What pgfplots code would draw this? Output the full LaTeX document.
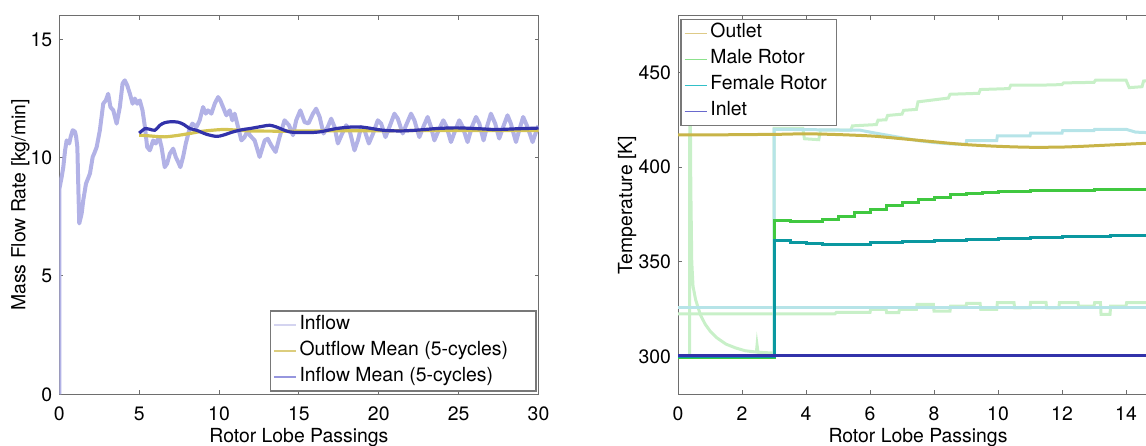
\documentclass[border=0pt]{standalone}
\usepackage{pgfplots}
\pgfplotsset{compat=1.18}
\usepackage{fontspec}
\setmainfont{TeX Gyre Heros}

\definecolor{inflowlight}{RGB}{178,178,230}
\definecolor{inflowmean}{RGB}{50,50,170}
\definecolor{outmean}{RGB}{212,196,84}
\definecolor{outlet}{RGB}{200,180,72}
\definecolor{male}{RGB}{64,200,64}
\definecolor{female}{RGB}{10,152,160}
\definecolor{inlet}{RGB}{50,50,170}
\definecolor{malelight}{RGB}{200,240,200}
\definecolor{femlight}{RGB}{182,228,232}
\definecolor{axgray}{RGB}{110,110,110}
\definecolor{leggray}{RGB}{120,120,120}
% legend line colours
\definecolor{lgInflow}{RGB}{212,212,240}
\definecolor{lgOutMean}{RGB}{220,205,125}
\definecolor{lgInMean}{RGB}{150,150,222}
\definecolor{lgOutlet}{RGB}{222,202,135}
\definecolor{lgMale}{RGB}{140,225,140}
\definecolor{lgFemale}{RGB}{50,192,200}
\definecolor{lgInlet}{RGB}{105,105,205}

\newcommand{\fs}{\fontsize{9.7}{11.6}\selectfont}
\newcommand{\lgline}[1]{\addlegendimage{legend image code/.code={\draw[color=#1, line width=0.7pt] (0pt,0pt) -- (11pt,0pt);}}}

\pgfplotsset{
  mystyle/.style={
    scale only axis,
    tick align=inside,
    axis line style={draw=axgray, line width=0.5pt},
    every tick/.style={draw=axgray, line width=0.5pt},
    major tick length=2pt,
    tick label style={font=\fs, text=black},
    label style={font=\fs},
    /pgf/number format/assume math mode=true,
    /pgf/number format/1000 sep={},
    xticklabel style={anchor=base, yshift=-12.85pt},
    xlabel style={at={(axis description cs:0.5,0)}, anchor=base, yshift=-23.85pt},
    legend cell align=left,
    legend style={draw=leggray, line width=0.6pt, fill=white, font=\fs,
      inner xsep=1.5pt, inner ysep=0.5pt, row sep=0pt,
      nodes={inner xsep=1.5pt, inner ysep=2pt, text height=6.5pt, text depth=2.5pt}},
  }
}

\begin{document}
\begin{tikzpicture}
% ---------------- Left panel ----------------
\begin{axis}[mystyle,
  at={(29.65pt,25.35pt)}, anchor=south west,
  width=239.6pt, height=189.3pt,
  xmin=0, xmax=30, ymin=0, ymax=16,
  xtick={0,5,10,15,20,25,30}, ytick={0,5,10,15},
  xlabel={Rotor Lobe Passings},
  ylabel={Mass Flow Rate [kg/min]},
  ylabel style={at={(axis description cs:-0.081,0.5)}, anchor=center},
  legend style={at={(0.9962,0.0069)}, anchor=south east},
]
\lgline{lgInflow}
\addlegendentry{Inflow}
\lgline{lgOutMean}
\addlegendentry{Outflow Mean (5-cycles)\hspace*{11pt}}
\lgline{lgInMean}
\addlegendentry{Inflow Mean (5-cycles)}

\addplot[forget plot, color=inflowlight, line width=2pt, line join=round] coordinates {
(0,0) (0.01,8.7) (0.15,9.19) (0.25,9.6) (0.36,10.3) (0.46,10.73) (0.62,10.6) (0.72,10.9)
(0.84,11.16) (0.98,11.1) (1.05,10.9) (1.13,10.45) (1.2,8.5) (1.25,7.22) (1.4,7.64) (1.5,8.2)
(1.67,8.9) (1.92,9.33) (2.09,10.03) (2.2,10.2) (2.34,10.45) (2.54,11.16) (2.75,12.28) (2.91,12.42)
(3.06,12.7) (3.2,12.14) (3.38,12.0) (3.59,11.44) (3.79,12.14) (3.96,13.13) (4.1,13.27) (4.25,13.06)
(4.42,12.7) (4.59,12.28) (4.73,12.5) (4.88,12.28) (5.04,12.42) (5.21,12.0) (5.36,11.3) (5.5,10.45)
(5.67,10.31) (5.88,10.73) (6.04,10.6) (6.25,10.87) (6.4,10.45) (6.6,9.6) (6.75,9.75) (6.92,10.17)
(7.13,10.38) (7.29,10.03) (7.44,9.82) (7.58,9.6) (7.75,10.03) (7.92,10.6) (8.13,11.16) (8.33,11.44)
(8.59,11.3) (8.79,11.58) (9.0,12.14) (9.17,11.86) (9.31,12.0) (9.52,11.86) (9.73,12.28) (9.94,12.56)
(10.08,12.42) (10.25,12.14) (10.46,11.79) (10.67,12.0) (10.83,11.58) (10.98,11.86) (11.19,11.3) (11.4,10.73)
(11.6,10.87) (11.8,11.16) (11.92,10.95) (12.23,10.73) (12.54,10.03) (12.86,10.73) (13.05,10.8) (13.27,10.52)
(13.54,10.24) (13.79,10.87) (14.1,11.58) (14.38,11.37) (14.63,10.95) (14.83,11.58) (15.09,12.0) (15.36,11.5)
(15.6,11.45) (15.88,11.86) (16.08,12.07) (16.3,11.72) (16.54,11.02) (16.81,11.3) (17.02,11.65) (17.23,11.3)
(17.44,10.6) (17.71,11.02) (17.96,11.37) (18.17,11.16) (18.48,10.31) (18.69,10.73) (18.9,11.3) (19.11,11.16)
(19.38,10.6) (19.63,11.0) (19.94,11.58) (20.15,11.44) (20.42,10.87) (20.67,11.3) (20.98,11.86) (21.19,11.65)
(21.5,11.02) (21.71,11.37) (22.02,11.86) (22.23,11.58) (22.54,10.87) (22.79,11.3) (23.06,11.72) (23.27,11.3)
(23.48,10.73) (23.75,11.16) (24.04,11.58) (24.25,11.3) (24.52,10.66) (24.79,11.16) (25.04,11.58) (25.25,11.3)
(25.56,10.66) (25.83,11.3) (26.09,11.72) (26.3,11.44) (26.56,10.73) (26.77,11.3) (27.02,11.86) (27.29,11.44)
(27.54,10.81) (27.79,11.3) (28.06,11.79) (28.27,11.44) (28.59,10.66) (28.79,11.16) (29.04,11.72) (29.31,11.3)
(29.63,10.66) (29.88,11.16) (30.0,11.35)
};
\addplot[forget plot, color=outmean, line width=1.6pt, smooth] coordinates {
(5,10.95) (5.5,10.93) (6,10.9) (6.6,10.88) (7.3,10.93) (8.15,11.02) (9,11.12) (10.2,11.19)
(11,11.17) (12,11.13) (14,11.12) (16,11.13) (20,11.14) (25,11.15) (30,11.15)
};
\addplot[forget plot, color=inflowmean, line width=1.6pt, smooth] coordinates {
(5.0,11.04) (5.2,11.15) (5.36,11.23) (5.67,11.2) (5.98,11.16) (6.3,11.37) (6.6,11.48) (7.0,11.52)
(7.44,11.5) (7.8,11.4) (8.17,11.23) (8.59,11.16) (9.21,10.99) (9.83,10.9) (10.25,10.95) (10.88,11.09)
(11.5,11.19) (11.92,11.23) (12.75,11.33) (13.17,11.37) (13.58,11.3) (14.42,11.09) (15.46,11.06) (16.3,11.09)
(17.34,11.23) (18.38,11.3) (19.11,11.28) (20.25,11.16) (21.3,11.13) (22.34,11.16) (23.59,11.23) (24.84,11.26)
(26.09,11.23) (27.34,11.19) (28.59,11.22) (30,11.25)
};
\end{axis}

% ---------------- Right panel ----------------
\begin{axis}[mystyle,
  at={(339pt,25.35pt)}, anchor=south west,
  width=240pt, height=189.3pt,
  xmin=0, xmax=15, ymin=280, ymax=480,
  xtick={0,2,4,6,8,10,12,14}, ytick={300,350,400,450},
  xlabel={Rotor Lobe Passings},
  ylabel={Temperature [K]},
  ylabel style={at={(axis description cs:-0.106,0.5)}, anchor=center},
  legend style={at={(0.005,0.9913)}, anchor=north west},
]
\lgline{lgOutlet}
\addlegendentry{Outlet}
\lgline{lgMale}
\addlegendentry{Male Rotor}
\lgline{lgFemale}
\addlegendentry{Female Rotor\hspace*{2pt}}
\lgline{lgInlet}
\addlegendentry{Inlet}

% light male rotor (upper)
\addplot[forget plot, color=malelight, line width=1.5pt] coordinates {
(0,300) (0.36,300) (0.37,470) (0.40,390) (0.43,350) (0.47,337) (0.55,330) (0.7,322)
(0.85,317) (1.0,313.5) (1.2,310) (1.5,306.5) (1.8,304.5) (2.1,303) (2.45,302.3) (2.47,306)
(2.5,302.2) (2.98,301.8) (3.0,301.8) (3.0,420.5) (3.9,420.5) (3.95,415) (4.4,414.5) (4.45,419.5)
(5.4,419.5) (5.45,421.8) (6.2,422.5) (6.25,424.8) (6.5,425) (6.55,427.3) (7.0,428) (7.05,430)
(7.45,430.5) (7.5,434.5) (8.45,436.5) (8.5,438.5) (9.4,439) (9.45,441) (10.35,441.5) (10.4,443.3)
(11.3,443.3) (12.0,443.6) (12.05,444.5) (13.0,444.8) (13.05,446) (14.0,446) (14.1,442) (14.5,442.5)
(14.55,445.5) (15,446)
};
% light male rotor (lower)
\addplot[forget plot, color=malelight, line width=1.5pt] coordinates {
(0,322.5) (4.9,322.5) (4.95,323.3) (6.0,323.3) (6.02,324.9) (6.5,324.9) (6.52,323.1) (6.9,323.1)
(6.92,324.9) (7.45,324.9) (7.47,327.5) (7.98,327.5) (8.0,324) (8.5,324) (8.52,326.6) (9.0,326.6)
(9.02,328) (9.44,328) (9.46,324.9) (9.96,324.9) (9.98,328.4) (10.5,328.4) (10.52,325.7) (11.0,325.7)
(11.02,328.6) (11.5,328.6) (11.52,325.7) (11.9,325.7) (11.92,328.4) (12.5,328.4) (12.52,326.6) (13.0,326.6)
(13.02,328.4) (13.2,328.4) (13.22,322.2) (13.5,322.2) (13.52,326.6) (14.0,326.6) (14.02,328.4) (15,328.4)
};
% light female rotor (lower)
\addplot[forget plot, color=femlight, line width=1.5pt] coordinates {
(0,326) (15,326)
};
% light female rotor (upper)
\addplot[forget plot, color=femlight, line width=1.5pt] coordinates {
(0,300) (2.98,300) (3.0,300) (3.0,420) (5.7,419.5) (6.0,418.5) (6.5,417) (7.0,415.5)
(7.5,414) (8.0,413) (8.5,412.3) (9.0,412) (9.02,414) (9.96,414) (9.98,416.5) (11.0,416.5)
(11.02,418) (12.0,418) (12.02,419.3) (13.0,419.3) (13.02,420) (14.0,420) (14.3,418.5) (15,418)
};
% outlet
\addplot[forget plot, color=outlet, line width=1.5pt, smooth] coordinates {
(0,417) (1,417) (2,417.2) (3,417.3) (4,417.6) (5,417.2) (6,416.5) (6.5,415.8)
(7,415) (7.5,414.2) (8,413.4) (8.5,412.6) (9,411.9) (9.5,411.4) (10,411) (10.5,410.7)
(11,410.5) (11.5,410.5) (12,410.6) (12.5,410.9) (13,411.3) (13.5,411.7) (14,412.1) (14.5,412.5) (15,412.8)
};
% male rotor
\addplot[forget plot, color=male, line width=1.5pt, const plot] coordinates {
(0,299.5) (3,371.8) (3.5,371.5) (4.5,372.5) (5.0,373.8) (5.5,375.8) (6.0,377.8) (6.5,379.5)
(7.0,381.3) (7.5,383.0) (8.0,384.2) (8.5,385.3) (9.0,386.0) (9.5,386.6) (10.0,387.0) (10.5,387.3)
(11.0,387.5) (11.5,387.7) (12.0,387.8) (12.5,387.9) (13.0,388.0) (13.5,388.1) (15,388.2)
};
% female rotor
\addplot[forget plot, color=female, line width=1.5pt, const plot] coordinates {
(0,300) (3,361.5) (3.5,360.3) (4.0,359.8) (4.5,359.0) (5.5,359.3) (6.0,360.0) (6.5,360.3)
(7.0,360.5) (7.5,360.8) (8.0,361.3) (8.5,361.5) (9.0,361.8) (9.5,362.0) (10.0,362.3) (10.5,362.5)
(11.0,362.8) (11.5,363.0) (12.0,363.2) (12.5,363.4) (13.0,363.5) (13.5,363.7) (14.0,363.9) (14.5,363.8) (15,363.8)
};
% inlet
\addplot[forget plot, color=inlet, line width=1.6pt] coordinates {
(0,300.4) (15,300.4)
};
\end{axis}

\pgfresetboundingbox
\path[use as bounding box] (0,0) rectangle (573pt,222.5pt);
\end{tikzpicture}
\end{document}
